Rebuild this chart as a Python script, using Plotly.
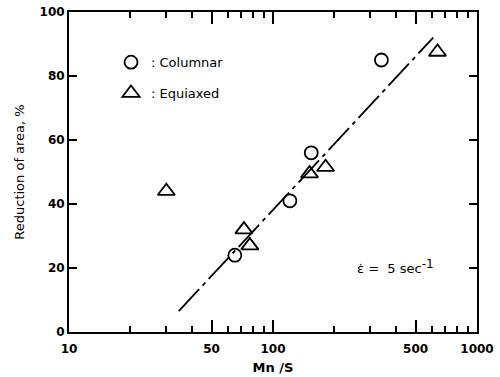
import plotly.graph_objects as go

# Data
col_x = [65, 121, 154, 340]
col_y = [24, 41, 56, 85]
equ_x = [30, 72, 77, 151, 181, 640]
equ_y = [44, 32, 27, 49.5, 51.5, 87.5]
fit_x = [34.5, 610]
fit_y = [6.5, 92]

x_ticks = [10, 50, 100, 500, 1000]
x_minor = [20, 30, 40, 60, 70, 80, 90, 200, 300, 400, 600, 700, 800, 900]
y_ticks = [0, 20, 40, 60, 80, 100]

FONT = "DejaVu Sans"

fig = go.Figure()
fig.add_trace(go.Scatter(
    x=fit_x, y=fit_y, mode="lines", showlegend=False,
    line=dict(color="black", width=1.8, dash="30px,5px,4px,5px")))
fig.add_trace(go.Scatter(
    x=col_x, y=col_y, mode="markers", name=": Columnar", legendgroup="a",
    marker=dict(symbol="circle-open", size=13, color="black", line=dict(width=1.8))))
fig.add_trace(go.Scatter(
    x=equ_x, y=equ_y, mode="markers", name=": Equiaxed", legendgroup="b",
    marker=dict(symbol="triangle-up-open", size=15, color="black", line=dict(width=1.8))))

fig.add_annotation(
    x=0.70, y=0.205, xref="paper", yref="paper", xanchor="left", yanchor="middle",
    text="ε̇ =  5 sec<sup><span style='font-size:12px'>-1</span></sup>", showarrow=False,
    font=dict(family=FONT, size=13, color="black"))

fig.update_layout(
    width=500, height=377,
    margin=dict(l=69, r=23, t=12, b=45),
    paper_bgcolor="white", plot_bgcolor="white",
    font=dict(family=FONT, color="black"),
    legend=dict(x=0.103, y=0.89, xanchor="left", yanchor="top",
                bgcolor="rgba(0,0,0,0)", traceorder="grouped", tracegroupgap=11,
                font=dict(family=FONT, size=13, color="black")),
    xaxis=dict(
        type="log", range=[1, 3], tickvals=x_ticks, ticktext=[str(v) for v in x_ticks],
        ticks="inside", ticklen=12, tickwidth=1.5, tickcolor="black",
        showline=True, linecolor="black", linewidth=2, mirror="ticks",
        showgrid=False, zeroline=False, ticklabelstandoff=5, automargin=False,
        tickfont=dict(family=FONT, size=12, color="black", weight="bold"),
        minor=dict(tickvals=x_minor, ticks="inside", ticklen=6, tickwidth=1.5,
                   tickcolor="black", showgrid=False),
        title=dict(text="Mn /S", standoff=7,
                   font=dict(family=FONT, size=13, color="black", weight="bold")),
    ),
    yaxis=dict(
        range=[0, 100], tickvals=y_ticks,
        ticks="inside", ticklen=8, tickwidth=1.5, tickcolor="black",
        showline=True, linecolor="black", linewidth=2, mirror="ticks",
        showgrid=False, zeroline=False, automargin=False,
        tickfont=dict(family=FONT, size=12, color="black", weight="bold"),
        title=dict(text="Reduction of area, %", standoff=12,
                   font=dict(family=FONT, size=13, color="black")),
    ),
)

fig.write_html("out.html", config={"displayModeBar": False},
               post_script="document.body.style.margin='0px';")
